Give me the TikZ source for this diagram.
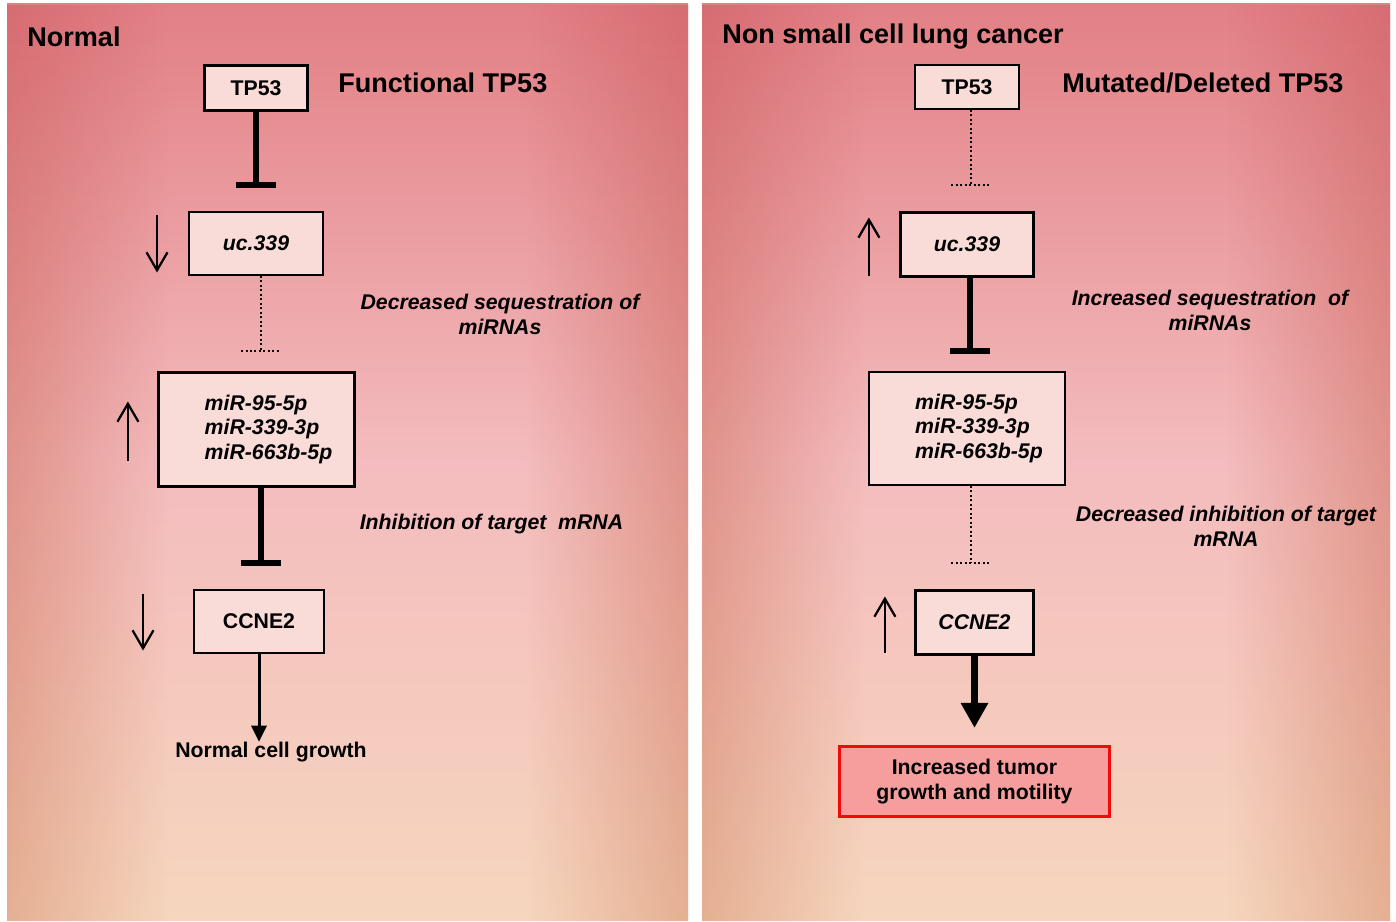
\documentclass[tikz,border=0pt]{standalone}
\usepackage{fontspec}
\setmainfont{Liberation Sans}
\usetikzlibrary{positioning, calc, arrows.meta, fadings}

\definecolor{pnlTop}{RGB}{226,128,133}
\definecolor{pnlMid}{RGB}{244,188,190}
\definecolor{pnlBot}{RGB}{246,214,190}
\definecolor{edgeTop}{RGB}{210,100,108}
\definecolor{edgeBot}{RGB}{222,160,128}
\definecolor{boxFill}{RGB}{249,220,216}
\definecolor{tumorFill}{RGB}{246,158,158}
\definecolor{tumorLine}{RGB}{240,10,10}

\newcommand{\bigfont}{\fontsize{15.4}{18}\selectfont\bfseries}
\newcommand{\smallfont}{\fontsize{12.1}{14.2}\selectfont\bfseries}

\begin{document}
\begin{tikzpicture}[x=0.02cm, y=-0.02cm,
    panel/.style      = {top color=pnlTop, bottom color=pnlBot, middle color=pnlMid},
    edgefade/.style   = {top color=edgeTop, bottom color=edgeBot, opacity=0.7},
    geneblock/.style  = {rectangle, draw=black, fill=boxFill, font=\smallfont,
                         inner sep=2pt, align=center},
    thinbox/.style    = {geneblock, line width=0.04cm},
    thickbox/.style   = {geneblock, line width=0.065cm},
    tumorbox/.style   = {rectangle, draw=tumorLine, fill=tumorFill, line width=0.065cm,
                         font=\smallfont, align=center,
                         minimum width=5.4cm, minimum height=1.4cm},
    inhibit/.style    = {line width=0.12cm, -{Bar[width=0.8cm]}},
    dotlink/.style    = {line width=0.04cm, dash pattern=on 0.04cm off 0.05cm},
    trend/.style      = {line width=0.045cm,
                         -{Straight Barb[length=0.36cm, width=0.42cm]}},
    growarrow/.style  = {line width=0.06cm, -{Triangle[length=0.32cm, width=0.3cm]}},
    bigarrow/.style   = {line width=0.14cm, -{Triangle[length=0.5cm, width=0.52cm]}},
    paneltitle/.style = {font=\bigfont, anchor=west, inner sep=0pt},
    notelbl/.style    = {font=\smallfont\itshape, align=center, inner sep=0pt},
    plainlbl/.style   = {font=\smallfont, inner sep=0pt},
]

%% ============================================================
%% BACKGROUND PANELS
%% ============================================================
\useasboundingbox (0,0) rectangle (1396,922);
\fill[white] (0,0) rectangle (1396,922);

\shade[panel] (7,4) rectangle (688,920);
\shade[edgefade, path fading=east] (7,4) rectangle (170,920);
\shade[edgefade, path fading=west] (525,4) rectangle (688,920);

\shade[panel] (702,4) rectangle (1390,920);
\shade[edgefade, path fading=east] (702,4) rectangle (865,920);
\shade[edgefade, path fading=west] (1227,4) rectangle (1390,920);

%% ============================================================
%% LEFT PANEL: NORMAL
%% ============================================================
\node[paneltitle] (ttlL)  at (27,37)  {Normal};
\node[paneltitle] (funcL) at (338,83) {Functional TP53};

\node[thickbox, minimum width=2.06cm, minimum height=0.9cm]  (tpL)  at (256,88)    {TP53};
\node[thinbox,  minimum width=2.68cm, minimum height=1.26cm] (ucL)  at (256,243.5) {\itshape uc.339};
\node[thickbox, minimum width=3.92cm, minimum height=2.28cm, align=left] (mirL) at (256.5,429.5)
    {\itshape\hspace*{0.48cm}miR-95-5p\\\itshape\hspace*{0.48cm}miR-339-3p\\\itshape\hspace*{0.48cm}miR-663b-5p};
\node[thinbox,  minimum width=2.6cm, minimum height=1.26cm]  (ccL)  at (259,621.5) {CCNE2};
\node[plainlbl] (growthL) at (271,752) {Normal cell growth};

\node[notelbl] (seqL) at (500,314.5) {Decreased sequestration of\\miRNAs};
\node[notelbl] (inhL) at (491.5,524) {Inhibition of target\ \ mRNA};

% connectors
\coordinate (barL1) at (256,188);
\draw[inhibit] (tpL.south) -- (barL1);

\coordinate (barL2) at (261,351);
\draw[dotlink] (ucL.south -| barL2) -- (barL2);
\draw[dotlink] ($(barL2)+(-20,0)$) -- ($(barL2)+(20,0)$);

\coordinate (barL3) at (261,566);
\draw[inhibit] (mirL.south -| barL3) -- (barL3);

\draw[growarrow] (ccL.south) -- (ccL.south |- growthL.north);

% up / down trends
\draw[trend] ($(ucL.west)+(-31,-28)$)  -- ($(ucL.west)+(-31,29)$);
\draw[trend] ($(mirL.west)+(-29,31)$)  -- ($(mirL.west)+(-29,-28)$);
\draw[trend] ($(ccL.west)+(-50,-28)$)  -- ($(ccL.west)+(-50,29)$);

%% ============================================================
%% RIGHT PANEL: NSCLC
%% ============================================================
\node[paneltitle] (ttlR) at (722,37)  {Non small cell lung cancer};
\node[paneltitle] (mutR) at (1062,83) {Mutated/Deleted TP53};

\node[thinbox,  minimum width=2.08cm, minimum height=0.88cm] (tpR)  at (967,87)    {TP53};
\node[thickbox, minimum width=2.66cm, minimum height=1.28cm] (ucR)  at (967,244.5) {\itshape uc.339};
\node[thinbox,  minimum width=3.92cm, minimum height=2.26cm, align=left] (mirR) at (967,428.5)
    {\itshape\hspace*{0.48cm}miR-95-5p\\\itshape\hspace*{0.48cm}miR-339-3p\\\itshape\hspace*{0.48cm}miR-663b-5p};
\node[thickbox, minimum width=2.36cm, minimum height=1.28cm] (ccR)  at (974.5,622.5) {\itshape CCNE2};
\node[tumorbox] (tumor) at (974.5,781.5) {Increased tumor\\growth and motility};

\node[notelbl] (seqR) at (1210,310.5) {Increased sequestration\ \ of\\miRNAs};
\node[notelbl] (inhR) at (1226,526.5) {Decreased inhibition of target\\mRNA};

% connectors
\coordinate (barR1) at (971,185);
\draw[dotlink] (tpR.south -| barR1) -- (barR1);
\draw[dotlink] ($(barR1)+(-20,0)$) -- ($(barR1)+(20,0)$);

\coordinate (barR2) at (970,354);
\draw[inhibit] (ucR.south -| barR2) -- (barR2);

\coordinate (barR3) at (971,563);
\draw[dotlink] (mirR.south -| barR3) -- (barR3);
\draw[dotlink] ($(barR3)+(-20,0)$) -- ($(barR3)+(20,0)$);

\draw[bigarrow, shorten >=0.34cm] (ccR.south) -- (tumor.north);

% up trends
\draw[trend] ($(ucR.west)+(-30,31)$) -- ($(ucR.west)+(-30,-27)$);
\draw[trend] ($(ccR.west)+(-29,30)$) -- ($(ccR.west)+(-29,-26)$);

\end{tikzpicture}
\end{document}
